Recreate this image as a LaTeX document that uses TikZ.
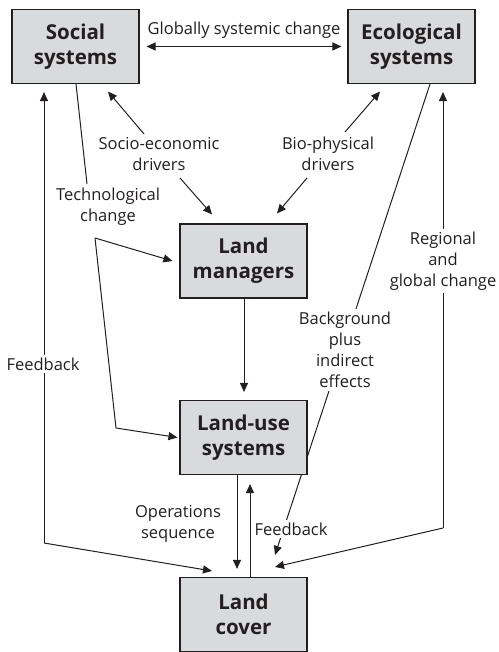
\documentclass[tikz,border=0pt]{standalone}
\usepackage{fontspec}
\setmainfont{Open Sans}
\usetikzlibrary{arrows.meta,backgrounds}
\definecolor{boxgray}{HTML}{D9DADC}
\definecolor{ink}{HTML}{231F20}
\begin{document}
\begin{tikzpicture}[x=1pt,y=-1pt,
  box/.style={draw=ink,line width=1.1pt,fill=boxgray,minimum width=127pt,
    minimum height=74pt,inner sep=0pt,align=center,text=ink,
    font=\fontsize{20.5}{25}\selectfont\bfseries},
  lbl/.style={align=center,text=ink,inner sep=1pt,
    font=\fontsize{16.5}{21}\selectfont},
  gap/.style={lbl,fill=white,inner sep=3pt},
  conn/.style={draw=ink,line width=1pt},
  arr/.style={conn,-{Triangle[length=9pt,width=8pt]}},
  both/.style={conn,{Triangle[length=9pt,width=8pt]}-{Triangle[length=9pt,width=8pt]}}]
\useasboundingbox (0,0) rectangle (498,652);

% boxes
\node[box] (soc) at (75.5,46.5) {Social\\systems};
\node[box] (eco) at (411.5,46.5) {Ecological\\systems};
\node[box] (lm)  at (243.5,261) {Land\\managers};
\node[box] (lu)  at (243.5,437.5) {Land-use\\systems};
\node[box] (lc)  at (243.5,614.5) {Land\\cover};

% bends and free ends of connectors
\coordinate (seA) at (144,134);
\coordinate (seB) at (180,178);
\coordinate (bpA) at (345,132);
\coordinate (bpB) at (307,178);
\coordinate (techend) at (87,184);
\coordinate (techsplit) at (95,238);
\coordinate (techbend) at (116,428);
\coordinate (fbcorner) at (44,543);
\coordinate (regcorner) at (443,528);

\begin{pgfonlayer}{background}
  \draw[both] ([xshift=7pt]soc.east) -- ([xshift=-6pt]eco.west);
  \draw[arr] (seA) -- ([shift={(32.5,7.5)}]soc.south);
  \draw[arr] (seB) -- ([shift={(-31.5,-9)}]lm.north);
  \draw[arr] (bpA) -- ([shift={(-31.5,7.5)}]eco.south);
  \draw[arr] (bpB) -- ([shift={(33.5,-10)}]lm.north);
  \draw[conn] ([xshift=0.5pt]soc.south) -- (techend);
  \draw[arr] (techsplit) -- ([xshift=-7pt]lm.west);
  \draw[arr] (techsplit) -- (techbend) -- ([xshift=-2pt]lu.west);
  \draw[arr] (fbcorner) -- ([shift={(-31.5,8)}]soc.south);
  \draw[arr] (fbcorner) -- ([shift={(-31.5,-6)}]lc.north);
  \draw[arr] (regcorner) -- ([shift={(31.5,8)}]eco.south);
  \draw[arr] (regcorner) -- ([shift={(31.5,-10)}]lc.north);
  \draw[arr] ([xshift=18.5pt]eco.south) -- ([shift={(31.5,-22)}]lc.north);
  \draw[arr] ([xshift=0.5pt]lm.south) -- ([shift={(0.5,-8)}]lu.north);
  \draw[arr] ([xshift=-6.5pt]lu.south) -- ([shift={(-6.5,-8)}]lc.north);
  \draw[arr] ([xshift=6.5pt]lc.north) -- ([shift={(6.5,9)}]lu.south);
\end{pgfonlayer}

% labels
\node[lbl] (glob) at (244,30) {Globally systemic change};
\node[lbl] (se)   at (159,154) {Socio-economic\\drivers};
\node[lbl] (bp)   at (328,154) {Bio-physical\\drivers};
\node[lbl] (tech) at (108,207) {Technological\\change};
\node[gap] (fbl)  at (43,364) {Feedback};
\node[gap] (reg)  at (443,261) {Regional\\and\\global change};
\node[gap] (bg)   at (345,350) {Background\\plus\\indirect\\effects};
\node[gap] (fbr)  at (291,529) {Feedback};
\node[lbl] (ops)  at (178,524) {Operations\\sequence};
\end{tikzpicture}
\end{document}
